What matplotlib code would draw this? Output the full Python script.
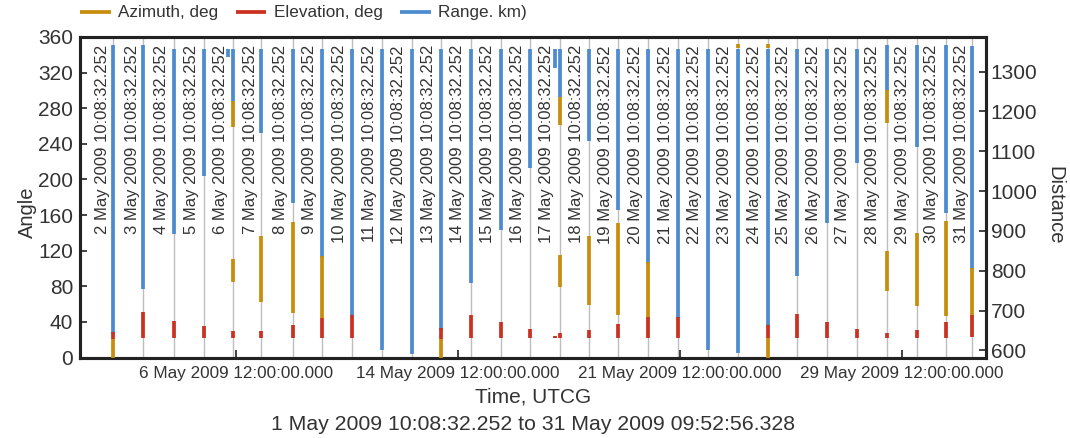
import matplotlib as mpl; mpl.use("Agg")
import matplotlib.pyplot as plt

plt.rcParams.update({"font.family": ["Liberation Sans", "DejaVu Sans"]})
INK = "#333333"
C = {"az": "#c68e0c", "el": "#cb3120", "rng": "#4d8bcf", "line": "#bdbdbd", "spine": "#222222"}

# one access per day, x in day-of-month (May 2009)
days = list(range(2, 32))
pass_t = [2.368, 3.380, 4.427, 5.430, 6.409, 7.364, 8.424, 9.424, 10.416, 11.429,
          12.442, 13.431, 14.434, 15.447, 16.446, 17.449, 18.418, 19.417, 20.430, 21.443,
          22.455, 23.448, 24.481, 25.460, 26.473, 27.476, 28.478, 29.491, 30.480, 31.368]

# range, km (right axis)
rng_t = pass_t + [6.230, 17.270]
rng_lo = [642, 753, 892, 1038, 1225, 1145, 969, 833, 686, 600,
          590, 652, 768, 902, 1058, 1237, 1126, 952, 818, 682,
          602, 593, 661, 786, 919, 1071, 1252, 1111, 944, 803] + [1336, 1310]
rng_hi = [1367, 1367] + [1357] * 24 + [1367, 1367, 1367, 1365] + [1357, 1357]

# elevation, deg (left axis)
el_t = [2.368, 3.380, 4.427, 5.430, 6.409, 7.364, 8.424, 9.424, 10.416, 13.431,
        14.434, 15.447, 16.446, 17.449, 17.270, 18.418, 19.417, 20.430, 21.443, 24.481,
        25.460, 26.473, 27.476, 28.478, 29.491, 30.480, 31.368]
el_lo = [21, 22, 22, 22, 22, 22, 22, 22, 22, 21,
         22, 22, 22, 22, 22, 22, 22, 22, 22, 22,
         22, 22, 22, 22, 22, 22, 22.5]
el_hi = [28.5, 51.6, 41.2, 35.5, 30, 30, 37, 44.2, 48.2, 33,
         48.2, 39.7, 32.2, 27.7, 24.5, 31.4, 37.8, 45.3, 45.6, 37,
         49, 39.7, 32.2, 27.7, 31.4, 39.7, 47.9]

# azimuth, deg (left axis)
az_t = [2.368, 6.409, 6.409, 7.364, 8.424, 9.424, 13.431, 17.449, 17.449, 18.418,
        19.417, 20.430, 23.448, 24.481, 24.481, 28.478, 28.478, 29.491, 30.480, 31.368]
az_lo = [0, 259, 84.5, 62.8, 49.8, 44.2, 0, 261, 79.6, 59,
         48.2, 45.3, 347.3, 348, 0, 263, 75, 58.3, 47.1, 47.9]
az_hi = [21, 288, 110.7, 136.1, 151.8, 113.7, 21, 293, 115.2, 136.8,
         151.4, 107, 351.8, 352, 22, 300.5, 120, 139.5, 153.6, 100.2]

xticks = [6.5, 14.0, 21.5, 29.0]
xtick_labels = ["6 May 2009 12:00:00.000", "14 May 2009 12:00:00.000",
                "21 May 2009 12:00:00.000", "29 May 2009 12:00:00.000"]

W, H = 1070, 438
fig = plt.figure(figsize=(W / 100, H / 100), dpi=100)
fig.patch.set_facecolor("white")
ax = fig.add_axes([80 / W, 1 - 357.5 / H, 906 / W, 320.5 / H])
ax2 = ax.twinx()

# distance axis behind, angle axis in front
ax2.vlines(pass_t, 0, 1, transform=ax2.get_xaxis_transform(), color=C["line"], lw=1.0, zorder=1)
h_rng = ax2.vlines(rng_t, rng_lo, rng_hi, color=C["rng"], lw=2.7, zorder=2, label="Range. km)")
ax.set_zorder(ax2.get_zorder() + 1)
ax.patch.set_visible(False)
h_az = ax.vlines(az_t, az_lo, az_hi, color=C["az"], lw=2.7, zorder=3, label="Azimuth, deg")
h_el = ax.vlines(el_t, el_lo, el_hi, color=C["el"], lw=2.7, zorder=4, label="Elevation, deg")

for d in days:
    ax.text(d, 0.975, f"{d} May 2009 10:08:32.252", transform=ax.get_xaxis_transform(),
            rotation=90, ha="center", va="top", fontsize=12, color=INK)

ax.set_xlim(1.243, 31.83)
ax.set_ylim(0, 360)
ax.set_yticks(range(0, 361, 40))
ax2.set_ylim(582, 1387)
ax2.set_yticks(range(600, 1301, 100))
ax.set_xticks(xticks, labels=xtick_labels)
ax.tick_params(axis="x", direction="in", length=6, width=1.2, color=C["spine"],
               labelsize=12.3, labelcolor=INK, pad=6)
ax.tick_params(axis="y", direction="in", length=5, width=1.2, color=C["spine"],
               labelsize=15, labelcolor=INK, pad=5)
ax2.tick_params(axis="y", direction="in", length=5, width=1.2, color=C["spine"],
                labelsize=15, labelcolor=INK, pad=3.5)
for a in (ax, ax2):
    for s in a.spines.values():
        s.set_linewidth(2.2)
        s.set_color(C["spine"])

fig.text(27 / W, 1 - 212 / H, "Angle", rotation=90, ha="center", va="center", fontsize=14.5, color=INK)
fig.text(1055 / W, 1 - 205 / H, "Distance", rotation=270, ha="center", va="center", fontsize=14.5, color=INK)
fig.text(533 / W, 1 - 397 / H, "Time, UTCG", ha="center", va="center", fontsize=15, color=INK)
fig.text(533 / W, 1 - 425 / H, "1 May 2009 10:08:32.252 to 31 May 2009 09:52:56.328",
         ha="center", va="center", fontsize=15.3, color=INK)

fig.legend([h_az, h_el, h_rng], ["Azimuth, deg", "Elevation, deg", "Range. km)"],
           loc="center left", bbox_to_anchor=(80 / W, 1 - 13 / H), ncol=3, frameon=False,
           fontsize=12.3, handlelength=1.8, handletextpad=0.45, columnspacing=1.0,
           borderpad=0, borderaxespad=0, labelcolor=INK)

fig.savefig("out.png", dpi=100, facecolor="white")
